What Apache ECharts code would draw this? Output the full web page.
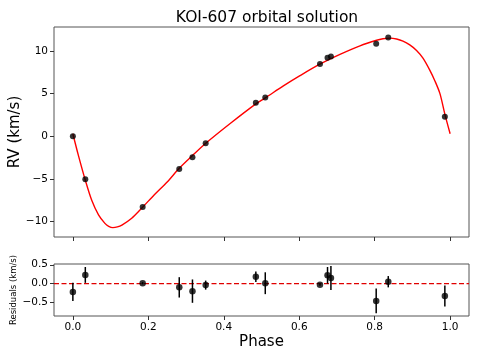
<!DOCTYPE html>
<html>
<head>
<meta charset="utf-8">
<script src="https://cdn.jsdelivr.net/npm/echarts@6/dist/echarts.min.js"></script>
<style>
html,body{margin:0;padding:0;background:#fff;}
#chart{width:479px;height:359px;}
</style>
</head>
<body>
<div id="chart"></div>
<script>
// Observed data (phase, RV in km/s)
const obsPhase = [0.000, 0.033, 0.185, 0.282, 0.317, 0.352, 0.485, 0.510, 0.655, 0.675, 0.684, 0.804, 0.836, 0.986];
const obsRV    = [0.00, -5.03, -8.28, -3.83, -2.46, -0.82, 3.94, 4.53, 8.47, 9.21, 9.33, 10.85, 11.56, 2.30];
// Residuals (km/s) and their errors
const resVal   = [-0.22, 0.23, 0.01, -0.10, -0.20, -0.04, 0.18, 0.01, -0.03, 0.22, 0.15, -0.46, 0.05, -0.33];
const resErr   = [0.24, 0.21, 0.03, 0.27, 0.31, 0.12, 0.14, 0.29, 0.03, 0.22, 0.32, 0.33, 0.15, 0.28];
// Orbital model curve
const modelPhase = [0.000, 0.015, 0.033, 0.050, 0.068, 0.085, 0.095, 0.106, 0.118, 0.130, 0.156, 0.185, 0.216, 0.250, 0.282, 0.317, 0.353, 0.417, 0.485, 0.510, 0.558, 0.602, 0.657, 0.708, 0.761, 0.805, 0.822, 0.840, 0.858, 0.875, 0.893, 0.911, 0.928, 0.946, 0.960, 0.973, 0.986, 1.000];
const modelRV    = [0.30, -2.30, -5.15, -7.50, -9.20, -10.20, -10.55, -10.70, -10.62, -10.40, -9.60, -8.30, -6.85, -5.35, -3.75, -2.26, -0.79, 1.50, 3.80, 4.50, 5.90, 7.10, 8.50, 9.60, 10.60, 11.25, 11.42, 11.50, 11.40, 11.15, 10.70, 10.05, 9.15, 7.75, 6.45, 5.00, 2.60, 0.30];
// Tick labels
const phaseTicks = [0, 0.2, 0.4, 0.6, 0.8, 1.0];
const rvTicks = [-10, -5, 0, 5, 10];
const resTicks = [-0.5, 0, 0.5];

const FONT = 'DejaVu Sans';
const minus = s => String(s).replace('-', '\u2212');

const chart = echarts.init(document.getElementById('chart'), null, {renderer: 'canvas'});

const frame = {show: true, borderColor: '#555', borderWidth: 1, backgroundColor: 'transparent',
               containLabel: false, outerBoundsMode: 'none'};
const tickStyle = {show: true, inside: false, length: 4, lineStyle: {color: '#333', width: 1}};
const labelStyle = {color: '#000', fontFamily: FONT, fontSize: 10.5};
const noLine = {show: false, onZero: false};

const option = {
  animation: false,
  backgroundColor: '#fff',
  title: {
    text: 'KOI-607 orbital solution',
    left: 262, top: 5, textAlign: 'center',
    textStyle: {fontFamily: FONT, fontSize: 15.5, fontWeight: 'normal', color: '#000'}
  },
  grid: [
    Object.assign({left: 54, right: 10, top: 27, height: 210}, frame),
    Object.assign({left: 54, right: 10, top: 264, height: 52}, frame)
  ],
  xAxis: [
    {
      type: 'value', gridIndex: 0, min: -0.05, max: 1.05, position: 'bottom',
      axisLine: noLine, splitLine: {show: false},
      axisTick: Object.assign({customValues: phaseTicks}, tickStyle),
      axisLabel: {show: false, customValues: phaseTicks}
    },
    {
      type: 'value', gridIndex: 1, min: -0.05, max: 1.05, position: 'bottom',
      axisLine: noLine, splitLine: {show: false},
      axisTick: Object.assign({customValues: phaseTicks}, tickStyle),
      axisLabel: Object.assign({customValues: phaseTicks, margin: 6, formatter: v => v.toFixed(1)}, labelStyle),
      name: 'Phase', nameLocation: 'middle', nameGap: 19, nameMoveOverlap: false,
      nameTextStyle: {fontFamily: FONT, fontSize: 15, color: '#000'}
    }
  ],
  yAxis: [
    {
      type: 'value', gridIndex: 0, min: -11.8, max: 12.8, position: 'left',
      axisLine: noLine, splitLine: {show: false},
      axisTick: Object.assign({customValues: rvTicks}, tickStyle),
      axisLabel: Object.assign({customValues: rvTicks, margin: 6, formatter: v => minus(v)}, labelStyle),
      name: 'RV (km/s)', nameLocation: 'middle', nameGap: 31, nameRotate: 90, nameMoveOverlap: false,
      nameTextStyle: {fontFamily: FONT, fontSize: 15, color: '#000'}
    },
    {
      type: 'value', gridIndex: 1, min: -0.86, max: 0.52, position: 'left',
      axisLine: noLine, splitLine: {show: false},
      axisTick: Object.assign({customValues: resTicks}, tickStyle),
      axisLabel: Object.assign({customValues: resTicks, margin: 6, formatter: v => minus(v.toFixed(1))}, labelStyle),
      name: 'Residuals (km/s)', nameLocation: 'middle', nameGap: 36, nameRotate: 90, nameMoveOverlap: false,
      nameTextStyle: {fontFamily: FONT, fontSize: 8.5, color: '#000'}
    }
  ],
  series: [
    {
      type: 'line', xAxisIndex: 0, yAxisIndex: 0,
      data: modelPhase.map((p, i) => [p, modelRV[i]]),
      smooth: 0.3, showSymbol: false, symbol: 'none',
      lineStyle: {color: '#ff0000', width: 1.4}, z: 2
    },
    {
      type: 'scatter', xAxisIndex: 0, yAxisIndex: 0,
      data: obsPhase.map((p, i) => [p, obsRV[i]]),
      symbol: 'circle', symbolSize: 6, itemStyle: {color: '#000'}, z: 3
    },
    {
      type: 'line', xAxisIndex: 1, yAxisIndex: 1,
      data: [[-0.05, 0], [1.05, 0]], symbol: 'none',
      lineStyle: {color: '#e00000', width: 1.2, type: [5, 2.5]}, z: 1
    },
    {
      type: 'custom', xAxisIndex: 1, yAxisIndex: 1,
      data: obsPhase.map((p, i) => [p, resVal[i], resErr[i]]),
      renderItem: (params, api) => {
        const x = api.value(0), y = api.value(1), e = api.value(2);
        const a = api.coord([x, y - e]);
        const b = api.coord([x, y + e]);
        return {type: 'line', shape: {x1: a[0], y1: a[1], x2: b[0], y2: b[1]},
                style: {stroke: '#000', lineWidth: 1.5}};
      }, z: 2
    },
    {
      type: 'scatter', xAxisIndex: 1, yAxisIndex: 1,
      data: obsPhase.map((p, i) => [p, resVal[i]]),
      symbol: 'circle', symbolSize: 6.5, itemStyle: {color: '#000'}, z: 3
    }
  ]
};
chart.setOption(option);
</script>
</body>
</html>
